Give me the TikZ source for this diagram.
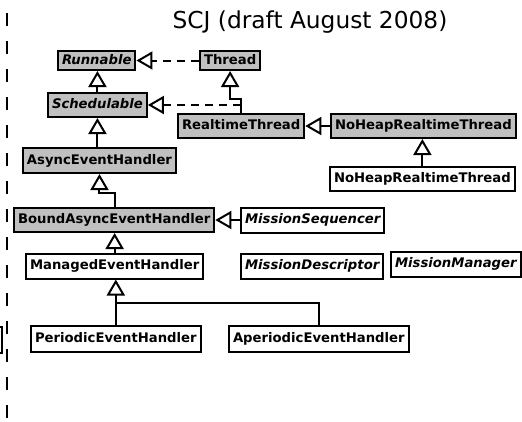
\documentclass[tikz,border=0pt]{standalone}
\usepackage{fontspec}
\setmainfont{DejaVu Sans}
\usetikzlibrary{arrows.meta}
\definecolor{classgray}{RGB}{192,192,192}
\tikzset{
  cls/.style={draw=black, line width=2pt, inner xsep=4pt, inner ysep=0pt,
    minimum height=24pt, text height=9.5pt, text depth=2.5pt,
    font=\fontsize{13.2}{15}\selectfont\bfseries, anchor=west},
  rtcls/.style={cls, fill=classgray},
  plaincls/.style={cls, fill=white},
  iface/.style={font=\fontsize{13.2}{15}\selectfont\bfseries\itshape},
  conn/.style={line width=2pt},
  inherit/.style={conn, -{Triangle[open, length=16pt, width=18pt, line width=2pt]}},
  realize/.style={inherit, dash pattern=on 8pt off 6pt},
}
\begin{document}
\begin{tikzpicture}[x=1pt, y=-1pt]
\useasboundingbox (0,0) rectangle (522,421);

% page divider on the left
\draw[line width=2pt, dash pattern=on 13pt off 15pt] (7,13) -- (7,421);
\node[draw, line width=2pt, minimum width=30pt, minimum height=26pt, anchor=east] (offpage) at (3,340) {};

% title
\node[font=\fontsize{23.3}{28}\selectfont, anchor=base] (title) at (310,28) {SCJ (draft August 2008)};

% classes
\node[rtcls, iface, minimum height=19pt] (run) at (57,60.5) {Runnable};
\node[rtcls, minimum height=19pt] (thr) at (199,60.5) {Thread};
\node[rtcls, iface] (sch) at (47,105) {Schedulable};
\node[rtcls] (rt) at (177,126) {RealtimeThread};
\node[rtcls] (nhg) at (330,126) {NoHeapRealtimeThread};
\node[plaincls] (nhw) at (329,179) {NoHeapRealtimeThread};
\node[rtcls, minimum height=25pt] (aeh) at (22,160.5) {AsyncEventHandler};
\node[rtcls] (bae) at (13,220) {BoundAsyncEventHandler};
\node[plaincls, iface, minimum height=25pt] (mseq) at (240,220) {MissionSequencer};
\node[plaincls, minimum height=25pt] (meh) at (25,266) {ManagedEventHandler};
\node[plaincls, iface, minimum height=25pt] (mdesc) at (240,266) {MissionDescriptor};
\node[plaincls, iface, minimum height=25pt] (mman) at (390,264) {MissionManager};
\node[plaincls, minimum height=26pt] (peh) at (30,338.5) {PeriodicEventHandler};
\node[plaincls, minimum height=26pt] (apeh) at (228,339) {AperiodicEventHandler};

% relations
\draw[realize] (thr.west) -- (run.east);
\draw[inherit] (sch.north) -- (sch.north |- run.south);
\coordinate (rtjog) at ([yshift=-28pt]thr.south);
\draw[inherit] (rt.north) |- (rtjog) -- (thr.south);
\draw[realize] (rt.north |- sch.east) -- (sch.east);
\draw[inherit] (nhg.west) -- (rt.east);
\draw[inherit] (nhw.north) -- (nhw.north |- nhg.south);
\draw[inherit] (aeh.north -| sch.south) -- (sch.south);
\coordinate (baejog) at ([xshift=16pt, yshift=-19pt]aeh.south);
\draw[inherit] (bae.north -| baejog) -- (baejog) -- (baejog -| aeh.south) -- (aeh.south);
\draw[inherit] (mseq.west) -- (bae.east);
\draw[inherit] (meh.north) -- (meh.north |- bae.south);
\draw[inherit] (peh.north) -- (peh.north |- meh.south);
\draw[conn] (apeh.north) |- ([yshift=22pt]peh.north);
\end{tikzpicture}
\end{document}
